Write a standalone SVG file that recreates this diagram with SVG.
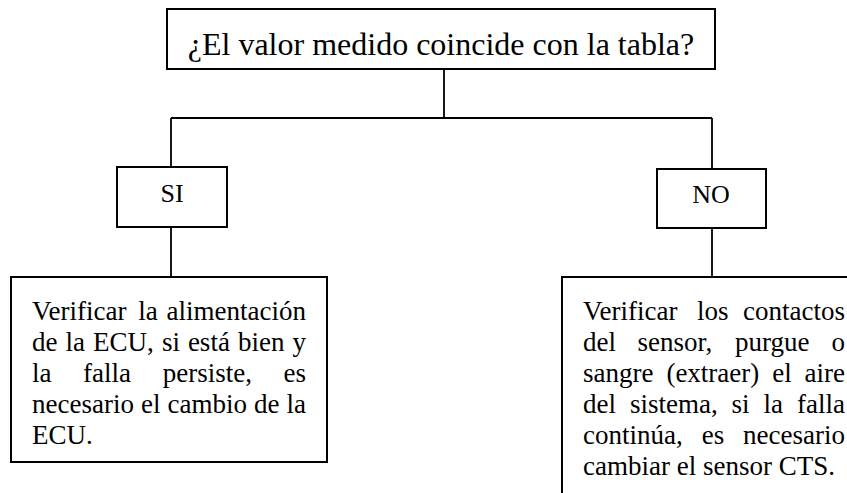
<svg xmlns="http://www.w3.org/2000/svg" width="847" height="493" viewBox="0 0 847 493">
<style>
.box{fill:#fff;stroke:#000;stroke-width:2}
.ln{fill:none;stroke:#000;stroke-width:1.8}
.t{font-family:"Liberation Serif","Times New Roman",serif;fill:#000}
.b{font-size:27px}
.e{text-anchor:end}
</style>
<rect width="847" height="493" fill="#fff"/>
<g id="connectors">
<path class="ln" d="M444 69V118M171 118H712M171 118V167M712 118V169M171 227V277M712 228V277"/>
</g>
<g id="question">
<rect class="box" x="167" y="9" width="548" height="60"/>
<text class="t" x="441" y="55" font-size="32" text-anchor="middle">¿El valor medido coincide con la tabla?</text>
</g>
<g id="si">
<rect class="box" x="117" y="167" width="110" height="60"/>
<text class="t" x="172" y="202" font-size="26" text-anchor="middle">SI</text>
</g>
<g id="no">
<rect class="box" x="657" y="169" width="109" height="59"/>
<text class="t" x="711" y="203" font-size="26" text-anchor="middle">NO</text>
</g>
<g id="si-action">
<rect class="box" x="11" y="277" width="316" height="185"/>
<text class="t b" y="320"><tspan x="32">Verificar</tspan><tspan x="138.2">la</tspan><tspan x="306" class="e">alimentación</tspan></text>
<text class="t b" y="351"><tspan x="32">de</tspan><tspan x="65.5">la</tspan><tspan x="93.1">ECU,</tspan><tspan x="161.9">si</tspan><tspan x="187.9">está</tspan><tspan x="238">bien</tspan><tspan x="306" class="e">y</tspan></text>
<text class="t b" y="382"><tspan x="32">la</tspan><tspan x="83.1">falla</tspan><tspan x="162.7">persiste,</tspan><tspan x="306" class="e">es</tspan></text>
<text class="t b" y="413"><tspan x="32">necesario</tspan><tspan x="141">el</tspan><tspan x="167.5">cambio</tspan><tspan x="254">de</tspan><tspan x="306" class="e">la</tspan></text>
<text class="t b" x="32" y="444">ECU.</text>
</g>
<g id="no-action">
<rect class="box" x="562" y="277" width="300" height="230"/>
<text class="t b" y="320"><tspan x="583">Verificar</tspan><tspan x="697">los</tspan><tspan x="845" class="e">contactos</tspan></text>
<text class="t b" y="351"><tspan x="583">del</tspan><tspan x="637.6">sensor,</tspan><tspan x="734.9">purgue</tspan><tspan x="845" class="e">o</tspan></text>
<text class="t b" y="382"><tspan x="583">sangre</tspan><tspan x="666.4">(extraer)</tspan><tspan x="772.2">el</tspan><tspan x="845" class="e">aire</tspan></text>
<text class="t b" y="413"><tspan x="583">del</tspan><tspan x="629.9">sistema,</tspan><tspan x="731.6">si</tspan><tspan x="763.6">la</tspan><tspan x="845" class="e">falla</tspan></text>
<text class="t b" y="444"><tspan x="583">continúa,</tspan><tspan x="701.7">es</tspan><tspan x="845" class="e">necesario</tspan></text>
<text class="t b" x="583" y="475">cambiar el sensor CTS.</text>
</g>
</svg>
